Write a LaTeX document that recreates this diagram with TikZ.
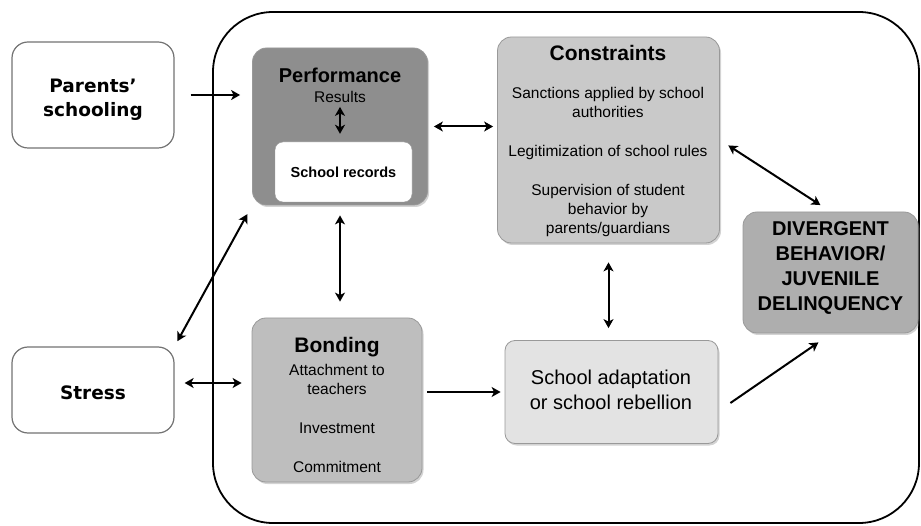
\documentclass[tikz,border=0pt]{standalone}
\usepackage{fontspec}
\setmainfont{Liberation Sans}
\newfontfamily\dejavu{DejaVu Sans}
\usepackage{xcolor}
\usetikzlibrary{arrows.meta,shadows}

\definecolor{perfgray}{HTML}{8E8E8E}
\definecolor{constrgray}{HTML}{C9C9C9}
\definecolor{bondgray}{HTML}{BEBEBE}
\definecolor{divgray}{HTML}{AEAEAE}
\definecolor{adaptgray}{HTML}{E3E3E3}

\tikzset{
	box/.style={draw=black!40, line width=0.8pt, rounded corners=14pt, inner sep=0pt,
		drop shadow={opacity=0.35, shadow xshift=1.5pt, shadow yshift=-2pt}},
	outbox/.style={draw=black!55, line width=1.2pt, rounded corners=16pt, fill=white, inner sep=0pt},
	txt/.style={inner sep=0pt, align=center},
	arr/.style={-{Stealth[length=9pt,width=10pt,inset=2.5pt]}, line width=2pt},
	darr/.style={{Stealth[length=9pt,width=10pt,inset=2.5pt]}-{Stealth[length=9pt,width=10pt,inset=2.5pt]}, line width=2pt},
}
\newcommand{\bigbf}{\fontsize{20}{24}\selectfont\bfseries}
\newcommand{\bodytxt}{\fontsize{15.5}{19}\selectfont}

\begin{document}
\begin{tikzpicture}[x=1pt,y=-1pt]
	\useasboundingbox (0,0) rectangle (921,526);

	% frame round the school context
	\draw[line width=1.8pt, rounded corners=60pt] (213,12) rectangle (919,523);

	% boxes
	\node[outbox, minimum width=162pt, minimum height=106pt] (parents) at (93,95) {};
	\node[outbox, minimum width=162pt, minimum height=86pt] (stress) at (93,390) {};
	\node[box, fill=perfgray, minimum width=175pt, minimum height=157pt] (perf) at (340,126.5) {};
	\node[draw=black!40, fill=white, rounded corners=8pt, minimum width=137pt, minimum height=60pt] (records) at (343.5,172) {};
	\node[box, fill=constrgray, minimum width=222pt, minimum height=206pt] (constr) at (608.5,140) {};
	\node[box, fill=bondgray, minimum width=170pt, minimum height=164pt] (bond) at (337,400) {};
	\node[box, fill=adaptgray, rounded corners=10pt, minimum width=213pt, minimum height=103pt] (adapt) at (611.5,392) {};
	\node[box, fill=divgray, minimum width=175pt, minimum height=121pt] (diverg) at (830.5,272.5) {};

	% texts
	\node[txt, font=\dejavu\fontsize{18.5}{24}\selectfont\bfseries] (parents-txt) at (93,100) {Parents’\\schooling};
	\node[txt, font=\dejavu\fontsize{18.5}{24}\selectfont\bfseries] (stress-txt) at (93,393) {Stress};

	\node[txt, font=\bigbf] (perf-title) at (340,75) {Performance};
	\node[txt, font=\bodytxt] (results) at (340,97) {Results};
	\node[txt, font=\fontsize{14.5}{17}\selectfont\bfseries] (records-txt) at (343.5,172) {School records};

	\node[txt, font=\fontsize{21}{25}\selectfont\bfseries] (constr-title) at (608,53) {Constraints};
	\node[txt, font=\bodytxt] (sanctions) at (608,102) {Sanctions applied by school\\authorities};
	\node[txt, font=\bodytxt] (rules) at (608,152) {Legitimization of school rules};
	\node[txt, font=\bodytxt] (supervision) at (608,210) {Supervision of student\\behavior by\\parents/guardians};

	\node[txt, font=\fontsize{21}{25}\selectfont\bfseries] (bond-title) at (337,347) {Bonding};
	\node[txt, font=\bodytxt] (attach) at (337,379) {Attachment to\\teachers};
	\node[txt, font=\bodytxt] (invest) at (337,428) {Investment};
	\node[txt, font=\bodytxt] (commit) at (337,467) {Commitment};

	\node[txt, font=\fontsize{20}{25}\selectfont] (adapt-txt) at (611,390) {School adaptation\\or school rebellion};

	\node[txt, font=\fontsize{20}{25}\selectfont\bfseries] (diverg-txt) at (830.5,268) {DIVERGENT\\BEHAVIOR/\\JUVENILE\\DELINQUENCY};

	% arrows
	\draw[arr, shorten <=16pt, shorten >=12pt] (parents.east) -- (parents.east -| perf.west);
	\draw[darr, shorten <=10pt, shorten >=10pt] ([yshift=7pt]stress.east) -- ([yshift=7pt]stress.east -| bond.west);
	\draw[darr, shorten <=6pt, shorten >=10pt] (stress.north east) -- (perf.south west);
	\draw[darr, shorten <=6pt, shorten >=4pt] (perf.east) -- (perf.east -| constr.west);
	\draw[darr, shorten <=10pt, shorten >=16pt] (perf.south) -- (perf.south |- bond.north);
	\draw[darr, shorten <=4pt, shorten >=8pt] (results.south) -- (results.south |- records.north);
	\draw[darr, shorten <=10pt, shorten >=12pt] (constr.east) -- (diverg.north);
	\draw[darr, shorten <=19pt, shorten >=12pt] (constr.south) -- (constr.south |- adapt.north);
	\draw[arr, shorten <=5pt, shorten >=4pt] (bond.east |- adapt.west) -- (adapt.west);
	\draw[arr] ([xshift=12pt,yshift=-11pt]adapt.east) -- ([xshift=-12pt,yshift=-9pt]diverg.south);
\end{tikzpicture}
\end{document}
